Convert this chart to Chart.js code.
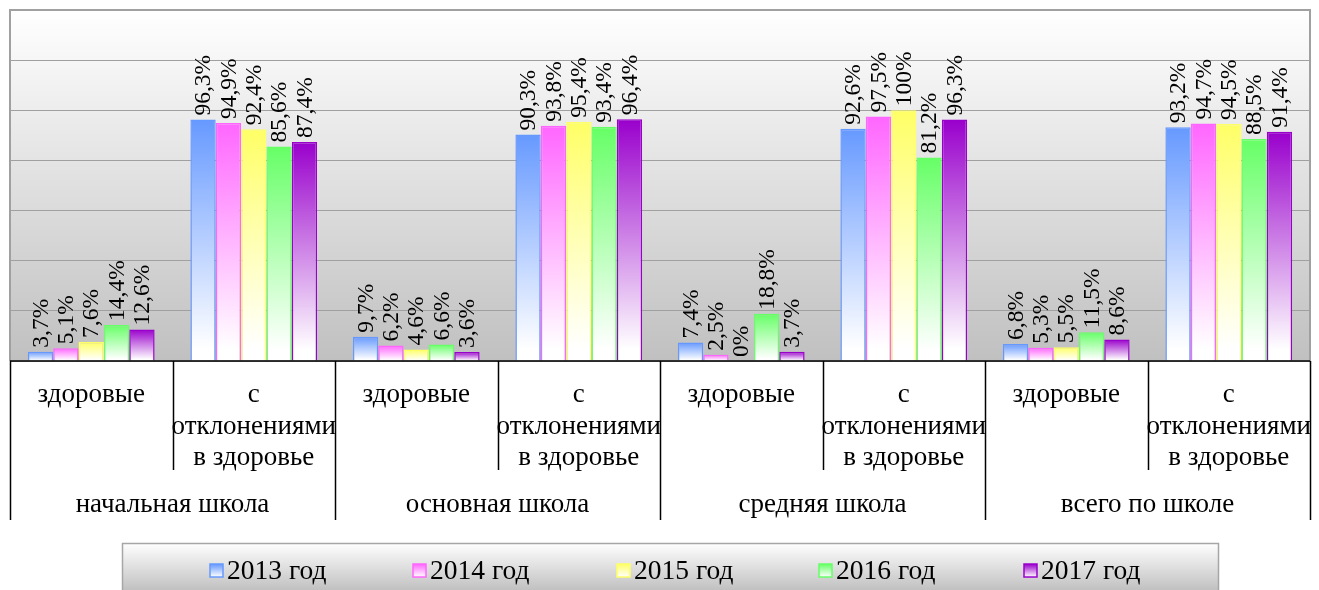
<!DOCTYPE html>
<html>
<head>
<meta charset="utf-8">
<script src="https://cdn.jsdelivr.net/npm/chart.js@4.4.1/dist/chart.umd.min.js"></script>
<style>
  html, body { margin: 0; padding: 0; background: #fff; }
  #wrap { width: 1319px; height: 590px; position: relative; }
</style>
</head>
<body>
<div id="wrap"><canvas id="healthChart"></canvas></div>
<script>
// данные диаграммы
const subLabels = [
  ['здоровые'], ['с', 'отклонениями', 'в здоровье'],
  ['здоровые'], ['с', 'отклонениями', 'в здоровье'],
  ['здоровые'], ['с', 'отклонениями', 'в здоровье'],
  ['здоровые'], ['с', 'отклонениями', 'в здоровье']
];
const groupLabels = ['начальная школа', 'основная школа', 'средняя школа', 'всего по школе'];
const seriesNames = ['2013 год', '2014 год', '2015 год', '2016 год', '2017 год'];
const y2013 = [3.7, 96.3, 9.7, 90.3, 7.4, 92.6, 6.8, 93.2];
const y2014 = [5.1, 94.9, 6.2, 93.8, 2.5, 97.5, 5.3, 94.7];
const y2015 = [7.6, 92.4, 4.6, 95.4, 0, 100, 5.5, 94.5];
const y2016 = [14.4, 85.6, 6.6, 93.4, 18.8, 81.2, 11.5, 88.5];
const y2017 = [12.6, 87.4, 3.6, 96.4, 3.7, 96.3, 8.6, 91.4];
const seriesColors = ['#6699ff', '#ff66ff', '#ffff66', '#66ff66', '#9900cc'];

const FONT = '"Liberation Serif", "Times New Roman", serif';
const fmt = v => String(v).replace('.', ',') + '%';

// градиент столбца: цвет сверху, белый снизу
function barFill(color) {
  return ctx => {
    const chart = ctx.chart;
    if (!chart.chartArea || ctx.raw == null) return color;
    const ys = chart.scales.y;
    const top = ys.getPixelForValue(ctx.raw), base = ys.getPixelForValue(0);
    if (base - top < 1) return color;
    const g = chart.ctx.createLinearGradient(0, top, 0, base);
    g.addColorStop(0, color);
    g.addColorStop(0.95, '#ffffff');
    g.addColorStop(1, '#ffffff');
    return g;
  };
}

// фон области построения
const plotBg = {
  id: 'plotBg',
  beforeDraw(chart) {
    const { ctx, chartArea: a } = chart;
    const g = ctx.createLinearGradient(0, a.top, 0, a.bottom);
    g.addColorStop(0, '#ffffff');
    g.addColorStop(1, '#c0c0c0');
    ctx.save();
    ctx.fillStyle = g;
    ctx.fillRect(a.left, a.top, a.right - a.left, a.bottom - a.top);
    ctx.restore();
  },
  afterDraw(chart) {
    const { ctx, chartArea: a } = chart;
    ctx.save();
    ctx.strokeStyle = '#a0a0a0';
    ctx.lineWidth = 2;
    ctx.beginPath();
    ctx.moveTo(a.left, a.bottom); ctx.lineTo(a.left, a.top);
    ctx.lineTo(a.right, a.top); ctx.lineTo(a.right, a.bottom);
    ctx.stroke();
    ctx.restore();
  }
};

// подписи значений, повернутые на 90°
const valueLabels = {
  id: 'valueLabels',
  afterDatasetsDraw(chart) {
    const ctx = chart.ctx;
    ctx.save();
    ctx.fillStyle = '#000';
    ctx.font = '23.5px ' + FONT;
    ctx.textAlign = 'left';
    ctx.textBaseline = 'middle';
    chart.data.datasets.forEach((ds, i) => {
      chart.getDatasetMeta(i).data.forEach((el, j) => {
        ctx.save();
        ctx.translate(el.x, el.y - 4);
        ctx.rotate(-Math.PI / 2);
        ctx.fillText(fmt(ds.data[j]), 0, 1);
        ctx.restore();
      });
    });
    ctx.restore();
  }
};

// двухуровневая ось категорий и легенда
const catAxis = {
  id: 'catAxis',
  afterDraw(chart) {
    const { ctx, chartArea: a } = chart;
    const xs = chart.scales.x;
    const n = subLabels.length;
    const w = (a.right - a.left) / n;
    ctx.save();
    ctx.strokeStyle = '#000';
    ctx.lineWidth = 1.5;
    ctx.beginPath();
    ctx.moveTo(a.left, a.bottom); ctx.lineTo(a.right, a.bottom);
    for (let i = 0; i <= n; i++) {
      const x = Math.round(a.left + i * w) + 0.5;
      ctx.moveTo(x, a.bottom);
      ctx.lineTo(x, a.bottom + (i % 2 === 0 ? 159 : 109));
    }
    ctx.stroke();

    ctx.fillStyle = '#000';
    ctx.font = '27px ' + FONT;
    ctx.textAlign = 'center';
    ctx.textBaseline = 'middle';
    subLabels.forEach((lines, i) => {
      const cx = xs.getPixelForValue(i);
      lines.forEach((t, k) => ctx.fillText(t, cx, a.bottom + 34 + k * 31.5));
    });
    groupLabels.forEach((t, g) => {
      const cx = a.left + (2 * g + 1) * w;
      ctx.fillText(t, cx, a.bottom + 144);
    });

    // легенда
    const lx = 122, ly = 543, lw = 1096, lh = 50;
    const lg = ctx.createLinearGradient(0, ly, 0, ly + lh);
    lg.addColorStop(0, '#ffffff');
    lg.addColorStop(1, '#bdbdbd');
    ctx.fillStyle = lg;
    ctx.fillRect(lx, ly, lw, lh);
    ctx.strokeStyle = '#a6a6a6';
    ctx.lineWidth = 1.5;
    ctx.strokeRect(lx + 0.5, ly + 0.5, lw, lh);

    const itemX = [210, 413, 617, 819, 1024];
    ctx.font = '27.5px ' + FONT;
    ctx.textAlign = 'left';
    seriesNames.forEach((name, i) => {
      const sx = itemX[i], sy = 564;
      const sg = ctx.createLinearGradient(0, sy, 0, sy + 13);
      sg.addColorStop(0, seriesColors[i]);
      sg.addColorStop(1, '#ffffff');
      ctx.fillStyle = sg;
      ctx.fillRect(sx, sy, 13, 13);
      ctx.strokeStyle = seriesColors[i];
      ctx.lineWidth = 1.5;
      ctx.strokeRect(sx, sy, 13, 13);
      ctx.fillStyle = '#000';
      ctx.fillText(name, sx + 17, 572);
    });
    ctx.restore();
  }
};

const allSeries = [y2013, y2014, y2015, y2016, y2017];

new Chart(document.getElementById('healthChart'), {
  type: 'bar',
  data: {
    labels: subLabels.map(l => l.join(' ')),
    datasets: allSeries.map((d, i) => ({
      label: seriesNames[i],
      data: d,
      backgroundColor: barFill(seriesColors[i]),
      borderColor: seriesColors[i],
      borderWidth: 1.5,
      categoryPercentage: 0.78,
      barPercentage: 1.0
    }))
  },
  options: {
    responsive: true,
    maintainAspectRatio: false,
    animation: false,
    layout: { padding: { left: 10, right: 9, top: 10, bottom: 229 } },
    plugins: { legend: { display: false }, tooltip: { enabled: false } },
    scales: {
      x: { display: false },
      y: {
        min: 0, max: 140,
        ticks: { display: false, stepSize: 20 },
        grid: { color: '#a0a0a0', lineWidth: 1, drawTicks: false },
        border: { display: false }
      }
    }
  },
  plugins: [plotBg, valueLabels, catAxis]
});
</script>
</body>
</html>
